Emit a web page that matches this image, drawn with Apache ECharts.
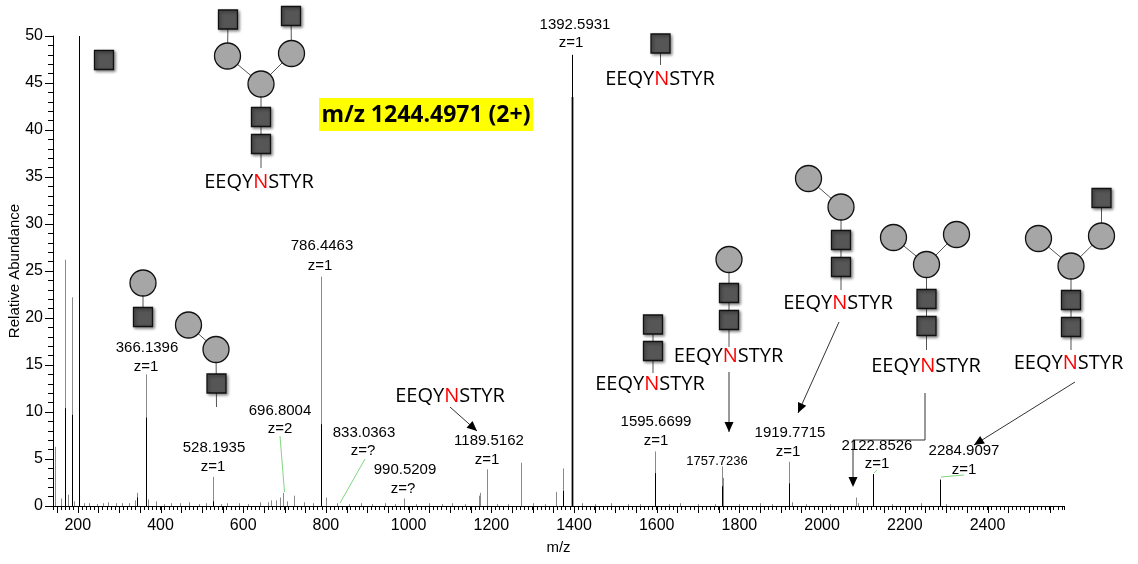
<!DOCTYPE html>
<html>
<head>
<meta charset="utf-8">
<script src="https://cdn.jsdelivr.net/npm/echarts/dist/echarts.min.js"></script>
<style>
html,body{margin:0;padding:0;background:#fff;}
#main{width:1138px;height:564px;}
</style>
</head>
<body>
<div id="main"></div>
<script>
// spectrum data: [m/z, relative abundance]
var greyPeaks = [
  [144,6.3],[160,0.8],[168,26.2],[176,1.2],[185,22.2],[191,0.5],[204,12],[214,0.3],[228,0.3],[246,0.2],
  [262,0.3],[274,0.4],[292,0.3],[306,0.3],[324,0.3],[338,0.6],[344,1.4],[366,14],[370,0.7],[388,0.5],
  [408,0.2],[426,0.3],[446,0.3],[470,0.4],[492,0.2],[510,0.3],[528,3.1],[546,0.2],[562,0.3],[590,0.3],
  [612,0.2],[640,0.4],[660,0.4],[668,0.6],[680,0.6],[688,0.9],[697,1.4],[706,0.5],[722,1.1],[746,0.4],
  [768,0.3],[787,24.4],[800,0.9],[828,0.3],[856,0.2],[884,0.3],[912,0.2],[944,0.3],[966,0.2],[990,0.8],
  [1018,0.2],[1050,0.3],[1080,0.2],[1104,0.3],[1136,0.2],[1170,1.1],[1173,1.4],[1190,3.9],[1214,0.2],[1240,0.2],
  [1272,4.6],[1300,0.3],[1330,0.2],[1356,1.5],[1373,4.0],[1394,43.5],[1420,0.3],[1450,0.2],[1490,0.3],[1530,0.2],
  [1560,0.2],[1596,5.8],[1630,0.2],[1656,0.3],[1700,0.2],[1740,0.2],[1757,4.2],[1760,3.0],[1800,0.2],[1850,0.3],
  [1880,0.2],[1920,4.7],[1926,0.4],[1960,0.2],[2020,0.2],[2082,0.9],[2088,0.3],[2123,3.4],[2170,0.2],[2240,0.3],
  [2285,2.8],[2300,0.2]
];
var blackPeaks = [
  [168,10.4],[185,9.7],[204,50],[344,0.9],[366,9.4],[528,0.5],[787,8.7],[1373,1.6],[1394,48],
  [1596,3.5],[1757,2.1],[1920,2.4],[2123,3.4],[2285,2.8]
];
var xLabels = [200,400,600,800,1000,1200,1400,1600,1800,2000,2200,2400];
var longTicks = [];
for (var t = 150; t <= 2550; t += 50) longTicks.push(t);

var AX = 'Liberation Sans, Arial, sans-serif';
var PEP = 'Open Sans, sans-serif';

// peak labels (pixel layout)
var peakLabels = [
  [575,25,'1392.5931',15],[571,43,'z=1',15],
  [322,246,'786.4463',15],[320,266,'z=1',15],
  [147,348,'366.1396',15],[146,367,'z=1',15],
  [214,448,'528.1935',15],[213,467,'z=1',15],
  [280,411,'696.8004',15],[280,429,'z=2',15],
  [364,433,'833.0363',15],[363,451,'z=?',15],
  [405,470,'990.5209',15],[403,489,'z=?',15],
  [489,441,'1189.5162',15],[487,460,'z=1',15],
  [656,422,'1595.6699',15],[656,441,'z=1',15],
  [717,461,'1757.7236',13],
  [790,433,'1919.7715',15],[788,452,'z=1',15],
  [877,446,'2122.8526',15],[877,464,'z=1',15],
  [964,451,'2284.9097',15],[964,470,'z=1',15]
];

var g = [];
function link(x1,y1,x2,y2){
  g.push({type:'line',z:10,shape:{x1:x1,y1:y1,x2:x2,y2:y2},style:{stroke:'#555',lineWidth:1}});
}
function sq(cx,cy){
  g.push({type:'rect',z:11,shape:{x:cx-9.5,y:cy-9.5,width:19,height:19},
    style:{fill:'#565656',stroke:'#111',lineWidth:1.3,shadowBlur:3,shadowOffsetX:1.5,shadowOffsetY:1.5,shadowColor:'rgba(0,0,0,0.45)'}});
}
function ci(cx,cy){
  g.push({type:'circle',z:11,shape:{cx:cx,cy:cy,r:13},style:{fill:'#a6a6a6',stroke:'#111',lineWidth:1.3}});
}
function pep(cx,cy){
  g.push({type:'text',z:12,x:cx,y:cy,style:{text:'{k|EEQY}{n|N}{k|STYR}',align:'center',verticalAlign:'middle',
    rich:{k:{fontFamily:PEP,fontSize:20,fill:'#000'},n:{fontFamily:PEP,fontSize:20,fill:'#ff0000'}}}});
}
function head(x1,y1,x2,y2){
  var dx=x2-x1, dy=y2-y1, L=Math.sqrt(dx*dx+dy*dy), ux=dx/L, uy=dy/L, hl=10, hw=4.5;
  var bx=x2-ux*hl, by=y2-uy*hl;
  g.push({type:'polygon',z:12,shape:{points:[[x2,y2],[bx-uy*hw,by+ux*hw],[bx+uy*hw,by-ux*hw]]},style:{fill:'#000'}});
}
function arrow(x1,y1,x2,y2){
  g.push({type:'line',z:12,shape:{x1:x1,y1:y1,x2:x2,y2:y2},style:{stroke:'#333',lineWidth:1}});
  head(x1,y1,x2,y2);
}
function green(x1,y1,x2,y2){
  g.push({type:'line',z:12,shape:{x1:x1,y1:y1,x2:x2,y2:y2},style:{stroke:'#7fd67f',lineWidth:1}});
}

// lone HexNAc near 204
sq(104,60);
// precursor glycan
link(228,19.5,227.5,56); link(291,16,291.5,53.5); link(227.5,56,261,84); link(291.5,53.5,261,84);
link(261,84,261,168);
sq(228,19.5); sq(291,16); ci(227.5,56); ci(291.5,53.5); ci(261,84); sq(261,117); sq(261,144);
pep(259,182);
// 1392
link(660.5,43.5,660.5,65); sq(660.5,43.5); pep(660,79);
// 366
link(143,283,143,317); ci(143,283); sq(143,317);
// 528
link(188.5,325,216,349.5); link(216,349.5,216.5,407); ci(188.5,325); ci(216,349.5); sq(216.5,383.5);
// 1189
pep(450,396); arrow(450,407,477,431);
// 1595
link(653,324.5,653,373); sq(653,324.5); sq(653,351); pep(650,384);
// 1757
link(729,259.5,729,347); ci(729,259.5); sq(729,293); sq(729,320); pep(728.5,356);
arrow(729,372,729,432);
// 1919
link(808.5,178.5,841,207); link(841,207,841,290); ci(808.5,178.5); ci(841,207); sq(841,240); sq(841,267);
pep(838,303.5); arrow(839,322,798,413);
// 2122
link(893.5,237.5,926.5,264.5); link(956.5,234.5,926.5,264.5); link(926.5,264.5,926.5,350);
ci(893.5,237.5); ci(956.5,234.5); ci(926.5,264.5); sq(926.5,299); sq(926.5,326);
pep(926,366);
g.push({type:'polyline',z:12,shape:{points:[[925,393],[925,440],[853,440],[853,480]]},style:{stroke:'#333',lineWidth:1,fill:null}});
head(853,470,853,487);
// 2284
link(1101.5,198,1101.5,236); link(1101.5,236,1071,266); link(1038.5,238.5,1071,266); link(1071,266,1071,350);
sq(1101.5,198); ci(1101.5,236); ci(1038.5,238.5); ci(1071,266); sq(1071,300); sq(1071,327);
pep(1068.5,363); arrow(1075,382,974,445);
// green leader lines
green(280,436,284.5,492); green(365,459,340,503); green(874,473,877,470); green(941,477,964,475);

// precursor box
g.push({type:'rect',z:10,shape:{x:319,y:98,width:214,height:33},style:{fill:'#ffff00'}});
g.push({type:'text',z:11,x:426,y:115,style:{text:'m/z 1244.4971 (2+)',align:'center',verticalAlign:'middle',
  fontFamily:PEP,fontWeight:'bold',fontSize:23,fill:'#000'}});

peakLabels.forEach(function(p){
  g.push({type:'text',z:12,x:p[0],y:p[1],style:{text:p[2],align:'center',verticalAlign:'middle',fontFamily:AX,fontSize:p[3],fill:'#000'}});
});

function stick(color){
  return function(params, api){
    var top = api.coord([api.value(0), api.value(1)]);
    var base = api.coord([api.value(0), 0]);
    var x = Math.round(base[0]) + 0.5;
    var w = (color !== '#000' && api.value(1) > 40) ? 2.6 : 1;
    return {type:'line',shape:{x1:x,y1:base[1],x2:x,y2:top[1]},style:{stroke:color,lineWidth:w}};
  };
}

var myChart = echarts.init(document.getElementById('main'));
var option = {
  animation: false,
  grid: {left:53, right:74, top:36, bottom:58, containLabel:false, outerBoundsMode:'none'},
  xAxis: {
    type:'value', min:140, max:2585, interval:10,
    name:'m/z', nameLocation:'middle', nameGap:34, nameMoveOverlap:false,
    nameTextStyle:{fontFamily:AX,fontSize:15,color:'#000'},
    axisLine:{onZero:false,lineStyle:{color:'#000',width:1}},
    axisTick:{show:true,length:4,lineStyle:{color:'#000'}},
    splitLine:{show:false},
    axisLabel:{fontFamily:AX,fontSize:16,color:'#000',margin:12,
      formatter:function(v){ return xLabels.indexOf(v) >= 0 ? String(v) : ''; }}
  },
  yAxis: {
    type:'value', min:0, max:50, interval:5,
    name:'Relative Abundance', nameLocation:'middle', nameGap:31, nameMoveOverlap:false,
    nameTextStyle:{fontFamily:AX,fontSize:15,color:'#000'},
    axisLine:{show:true,lineStyle:{color:'#000',width:1}},
    axisTick:{show:true,length:8,lineStyle:{color:'#000'}},
    minorTick:{show:true,splitNumber:5,length:5,lineStyle:{color:'#000'}},
    splitLine:{show:false},
    axisLabel:{fontFamily:AX,fontSize:16,color:'#000',margin:10}
  },
  graphic: g,
  series: [
    {type:'custom', name:'ticks', data:longTicks.map(function(v){return [v];}), silent:true, z:1,
      renderItem:function(params, api){
        var p = api.coord([api.value(0), 0]);
        var x = Math.round(p[0]) + 0.5;
        return {type:'line',shape:{x1:x,y1:p[1],x2:x,y2:p[1]+7},style:{stroke:'#000',lineWidth:1}};
      }, encode:{x:0}},
    {type:'custom', name:'grey', data:greyPeaks, renderItem:stick('#8a8a8a'), encode:{x:0,y:1}, z:2},
    {type:'custom', name:'black', data:blackPeaks, renderItem:stick('#000'), encode:{x:0,y:1}, z:3}
  ]
};
myChart.setOption(option);
</script>
</body>
</html>
